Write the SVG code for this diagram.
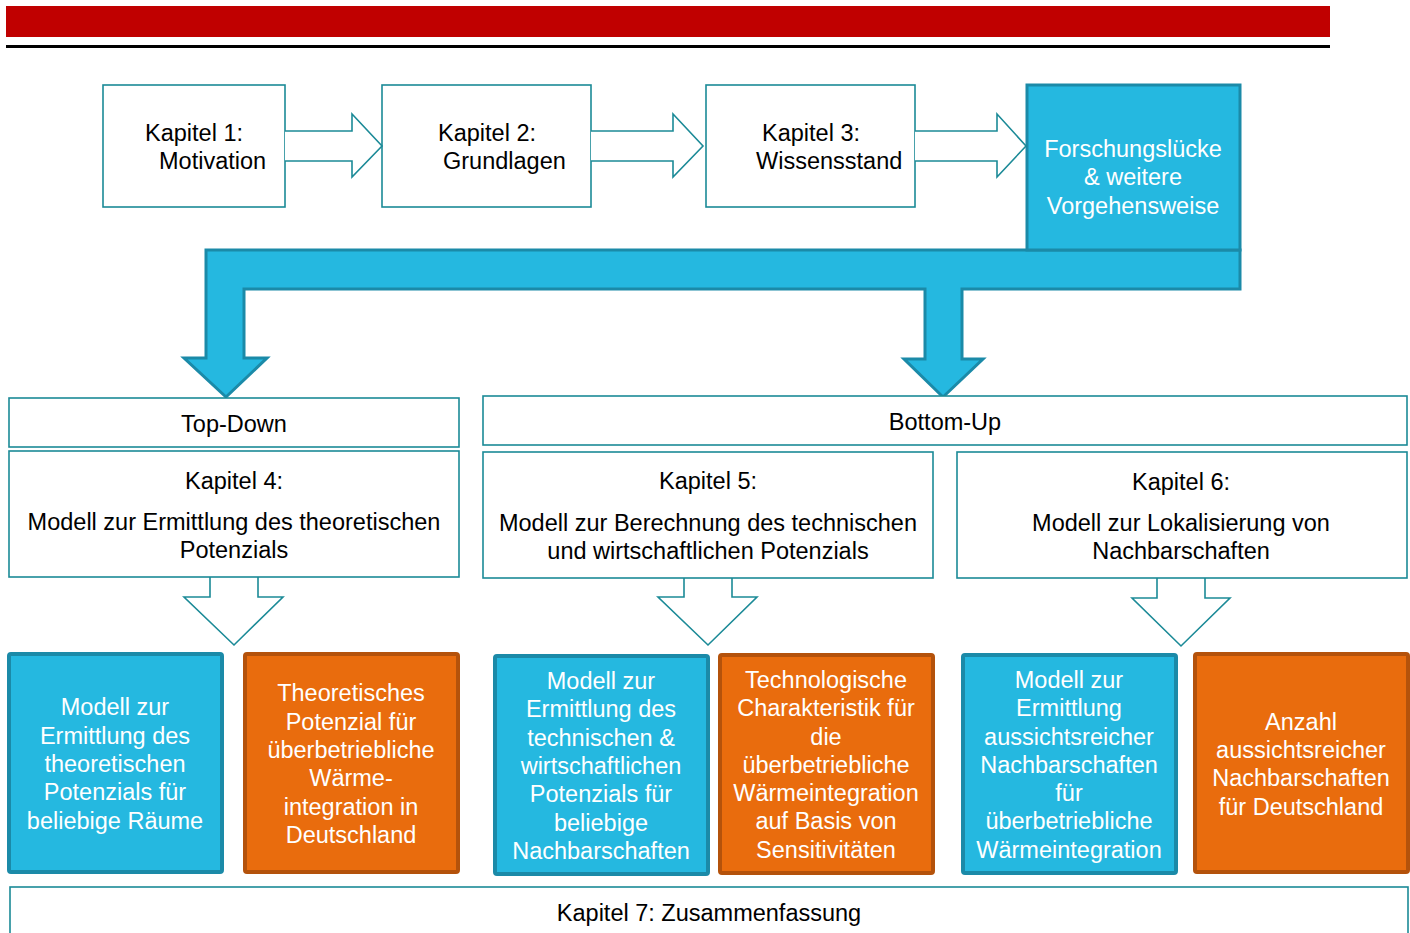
<svg xmlns="http://www.w3.org/2000/svg" width="1410" height="933" viewBox="0 0 1410 933">
  <style>
    text { font-family: "Liberation Sans", Arial, sans-serif; font-size: 23.5px; fill: #000; text-anchor: middle; }
    text.w { fill: #fff; }
    text.l { text-anchor: start; }
    .box { fill: #fff; stroke: #1B8A97; stroke-width: 1.6; }
    .hollow { fill: #fff; stroke: #1B8A97; stroke-width: 1.6; stroke-linejoin: miter; }
    .blue { fill: #25B8E0; stroke: #1B8AA8; stroke-width: 4; }
    .orange { fill: #E96C0D; stroke: #B4520B; stroke-width: 4; }
    .flow { fill: #25B8E0; stroke: #1B8AA8; stroke-width: 3; stroke-linejoin: miter; }
  </style>

  <!-- header bars -->
  <rect x="6" y="6" width="1324" height="31" fill="#C00000"/>
  <rect x="6" y="45" width="1324" height="3" fill="#000"/>

  <!-- chapter row -->
  <g id="k1"><rect class="box" x="103" y="85" width="182" height="122"/>
    <text class="l" x="145" y="141">Kapitel 1:</text><text class="l" x="159" y="169">Motivation</text></g>
  <g id="k2"><rect class="box" x="382" y="85" width="209" height="122"/>
    <text class="l" x="438" y="141">Kapitel 2:</text><text class="l" x="443" y="169">Grundlagen</text></g>
  <g id="k3"><rect class="box" x="706" y="85" width="209" height="122"/>
    <text class="l" x="762" y="141">Kapitel 3:</text><text class="l" x="756" y="169">Wissensstand</text></g>

  <!-- split arrow: research gap to both approaches -->
  <g id="flow">
    <path class="flow" d="M206,250 H1240 V289 H962 V359 H983 L943,397 L904,359 H925 V289 H244 V358 H267 L226,397 L184,358 H206 Z"/>
  </g>

  <g id="gap"><rect class="blue" x="1027" y="85" width="213" height="165" style="stroke-width:3"/>
    <text class="w" x="1133" y="157">Forschungslücke</text>
    <text class="w" x="1133" y="185">&amp; weitere</text>
    <text class="w" x="1133" y="214">Vorgehensweise</text></g>

  <!-- connectors between chapters -->
  <g id="connectors">
    <path class="hollow" d="M285,131 H352 V114 L382,146 L352,177 V161 H285"/>
    <path class="hollow" d="M591,131 H673 V114 L703,146 L673,177 V161 H591"/>
    <path class="hollow" d="M915,131 H997 V114 L1026,146 L997,177 V161 H915"/>
    <path class="hollow" d="M210,577 V597 H184 L234,645 L283,597 H258 V577"/>
    <path class="hollow" d="M684,578 V597 H658 L708,645 L757,597 H732 V578"/>
    <path class="hollow" d="M1157,578 V598 H1132 L1181,646 L1230,598 H1205 V578"/>
  </g>

  <!-- approaches -->
  <g id="topdown"><rect class="box" x="9" y="398" width="450" height="49"/>
    <text x="234" y="432">Top-Down</text></g>
  <g id="bottomup"><rect class="box" x="483" y="396" width="924" height="49"/>
    <text x="945" y="430">Bottom-Up</text></g>

  <g id="k4"><rect class="box" x="9" y="451" width="450" height="126"/>
    <text x="234" y="489">Kapitel 4:</text>
    <text x="234" y="530">Modell zur Ermittlung des theoretischen</text>
    <text x="234" y="558">Potenzials</text></g>
  <g id="k5"><rect class="box" x="483" y="452" width="450" height="126"/>
    <text x="708" y="489">Kapitel 5:</text>
    <text x="708" y="531">Modell zur Berechnung des technischen</text>
    <text x="708" y="559">und wirtschaftlichen Potenzials</text></g>
  <g id="k6"><rect class="box" x="957" y="452" width="450" height="126"/>
    <text x="1181" y="490">Kapitel 6:</text>
    <text x="1181" y="531">Modell zur Lokalisierung von</text>
    <text x="1181" y="559">Nachbarschaften</text></g>

  <!-- results -->
  <g id="r1"><rect class="blue" x="9" y="654" width="213" height="218" rx="2"/>
    <text class="w" x="115" y="715">Modell zur</text>
    <text class="w" x="115" y="744">Ermittlung des</text>
    <text class="w" x="115" y="772">theoretischen</text>
    <text class="w" x="115" y="800">Potenzials für</text>
    <text class="w" x="115" y="829">beliebige Räume</text></g>
  <g id="r2"><rect class="orange" x="245" y="654" width="213" height="218" rx="2"/>
    <text class="w" x="351" y="701">Theoretisches</text>
    <text class="w" x="351" y="730">Potenzial für</text>
    <text class="w" x="351" y="758">überbetriebliche</text>
    <text class="w" x="351" y="786">Wärme-</text>
    <text class="w" x="351" y="815">integration in</text>
    <text class="w" x="351" y="843">Deutschland</text></g>
  <g id="r3"><rect class="blue" x="495" y="656" width="213" height="218" rx="2"/>
    <text class="w" x="601" y="689">Modell zur</text>
    <text class="w" x="601" y="717">Ermittlung des</text>
    <text class="w" x="601" y="746">technischen &amp;</text>
    <text class="w" x="601" y="774">wirtschaftlichen</text>
    <text class="w" x="601" y="802">Potenzials für</text>
    <text class="w" x="601" y="831">beliebige</text>
    <text class="w" x="601" y="859">Nachbarschaften</text></g>
  <g id="r4"><rect class="orange" x="720" y="655" width="213" height="218" rx="2"/>
    <text class="w" x="826" y="688">Technologische</text>
    <text class="w" x="826" y="716">Charakteristik für</text>
    <text class="w" x="826" y="745">die</text>
    <text class="w" x="826" y="773">überbetriebliche</text>
    <text class="w" x="826" y="801">Wärmeintegration</text>
    <text class="w" x="826" y="829">auf Basis von</text>
    <text class="w" x="826" y="858">Sensitivitäten</text></g>
  <g id="r5"><rect class="blue" x="963" y="655" width="213" height="218" rx="2"/>
    <text class="w" x="1069" y="688">Modell zur</text>
    <text class="w" x="1069" y="716">Ermittlung</text>
    <text class="w" x="1069" y="745">aussichtsreicher</text>
    <text class="w" x="1069" y="773">Nachbarschaften</text>
    <text class="w" x="1069" y="801">für</text>
    <text class="w" x="1069" y="829">überbetriebliche</text>
    <text class="w" x="1069" y="858">Wärmeintegration</text></g>
  <g id="r6"><rect class="orange" x="1195" y="654" width="213" height="218" rx="2"/>
    <text class="w" x="1301" y="730">Anzahl</text>
    <text class="w" x="1301" y="758">aussichtsreicher</text>
    <text class="w" x="1301" y="786">Nachbarschaften</text>
    <text class="w" x="1301" y="815">für Deutschland</text></g>

  <g id="k7"><rect class="box" x="10" y="887" width="1398" height="60"/>
    <text x="709" y="921">Kapitel 7: Zusammenfassung</text></g>
</svg>
